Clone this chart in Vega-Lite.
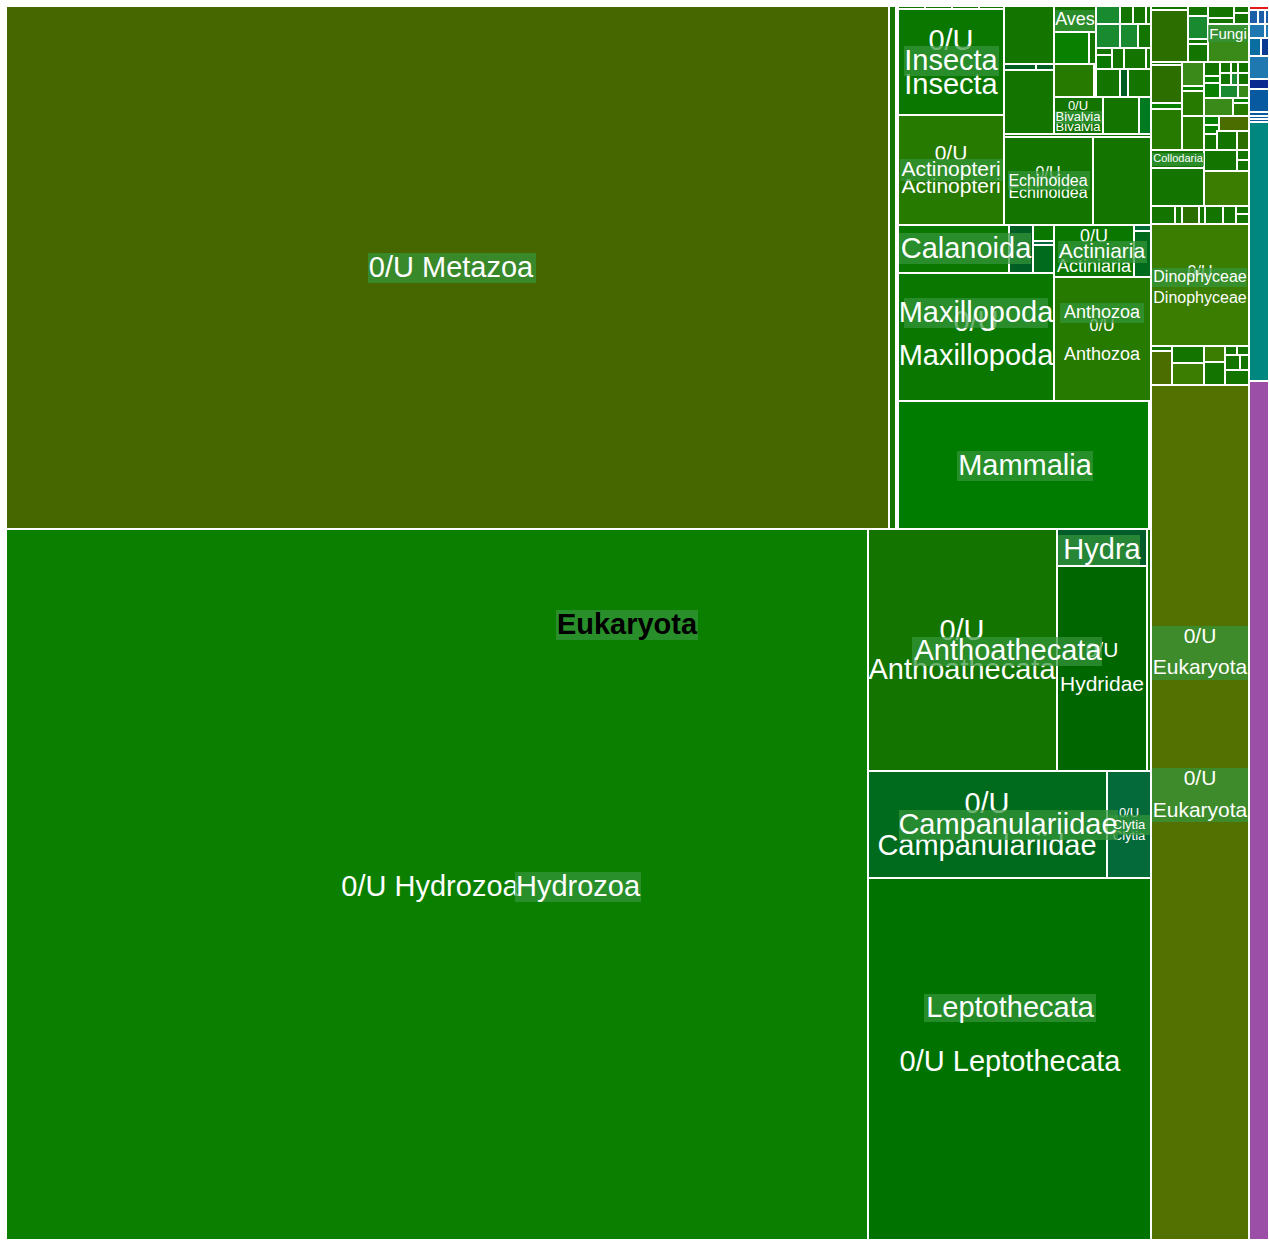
{
  "$schema": "https://vega.github.io/schema/vega-lite/v6.json",
  "width": 1263,
  "height": 1234,
  "autosize": "none",
  "padding": {"left": 6, "top": 6, "right": 0, "bottom": 0},
  "background": "white",
  "config": {"view": {"stroke": null}, "axis": {"disable": true}},
  "datasets": {
    "cells": [
      {"x0":6,"x1":889,"y0":6,"y1":529,"c":"metazoa"},
      {"x0":889,"x1":896,"y0":6,"y1":529,"c":"g"},
      {"x0":6,"x1":868,"y0":529,"y1":1240,"c":"hydrozoa"},
      {"x0":898,"x1":925,"y0":6,"y1":9,"c":"g"},
      {"x0":925,"x1":952,"y0":6,"y1":9,"c":"g"},
      {"x0":952,"x1":979,"y0":6,"y1":9,"c":"g"},
      {"x0":979,"x1":1004,"y0":6,"y1":9,"c":"g"},
      {"x0":898,"x1":1004,"y0":9,"y1":115,"c":"g2"},
      {"x0":1004,"x1":1054,"y0":6,"y1":64,"c":"g"},
      {"x0":1004,"x1":1036,"y0":64,"y1":70,"c":"dt"},
      {"x0":1036,"x1":1054,"y0":64,"y1":70,"c":"dt"},
      {"x0":1004,"x1":1054,"y0":70,"y1":134,"c":"g"},
      {"x0":1054,"x1":1096,"y0":6,"y1":32,"c":"g"},
      {"x0":1054,"x1":1089,"y0":32,"y1":64,"c":"g3"},
      {"x0":1089,"x1":1096,"y0":32,"y1":64,"c":"g"},
      {"x0":1054,"x1":1094,"y0":64,"y1":97,"c":"yg"},
      {"x0":1094,"x1":1096,"y0":64,"y1":97,"c":"g"},
      {"x0":1054,"x1":1103,"y0":97,"y1":134,"c":"g"},
      {"x0":1103,"x1":1139,"y0":97,"y1":134,"c":"g"},
      {"x0":1139,"x1":1151,"y0":97,"y1":134,"c":"g4"},
      {"x0":1096,"x1":1120,"y0":6,"y1":24,"c":"lt"},
      {"x0":1120,"x1":1133,"y0":6,"y1":24,"c":"g"},
      {"x0":1133,"x1":1146,"y0":6,"y1":24,"c":"g"},
      {"x0":1146,"x1":1151,"y0":6,"y1":24,"c":"g"},
      {"x0":1096,"x1":1120,"y0":24,"y1":48,"c":"lt"},
      {"x0":1120,"x1":1138,"y0":24,"y1":48,"c":"lt"},
      {"x0":1138,"x1":1151,"y0":24,"y1":48,"c":"g"},
      {"x0":1096,"x1":1112,"y0":48,"y1":55,"c":"g"},
      {"x0":1096,"x1":1112,"y0":55,"y1":69,"c":"g2"},
      {"x0":1112,"x1":1124,"y0":48,"y1":69,"c":"g"},
      {"x0":1124,"x1":1146,"y0":48,"y1":69,"c":"g"},
      {"x0":1146,"x1":1151,"y0":48,"y1":69,"c":"g"},
      {"x0":1096,"x1":1120,"y0":69,"y1":97,"c":"g"},
      {"x0":1120,"x1":1128,"y0":69,"y1":97,"c":"dt"},
      {"x0":1128,"x1":1151,"y0":69,"y1":97,"c":"g"},
      {"x0":1004,"x1":1151,"y0":134,"y1":137,"c":"g"},
      {"x0":898,"x1":1004,"y0":115,"y1":225,"c":"yg"},
      {"x0":1004,"x1":1093,"y0":137,"y1":225,"c":"g"},
      {"x0":1093,"x1":1151,"y0":137,"y1":225,"c":"g"},
      {"x0":898,"x1":1009,"y0":225,"y1":273,"c":"g2"},
      {"x0":1009,"x1":1033,"y0":225,"y1":273,"c":"dt"},
      {"x0":1033,"x1":1054,"y0":225,"y1":241,"c":"g2"},
      {"x0":1033,"x1":1054,"y0":241,"y1":245,"c":"cly"},
      {"x0":1033,"x1":1054,"y0":245,"y1":273,"c":"camp"},
      {"x0":1054,"x1":1134,"y0":225,"y1":277,"c":"g2"},
      {"x0":1134,"x1":1151,"y0":225,"y1":231,"c":"cly"},
      {"x0":1134,"x1":1151,"y0":231,"y1":277,"c":"camp"},
      {"x0":898,"x1":1054,"y0":273,"y1":401,"c":"g2"},
      {"x0":1054,"x1":1151,"y0":277,"y1":401,"c":"yg"},
      {"x0":898,"x1":1149,"y0":401,"y1":529,"c":"br"},
      {"x0":1149,"x1":1151,"y0":401,"y1":529,"c":"g"},
      {"x0":868,"x1":1057,"y0":529,"y1":771,"c":"g"},
      {"x0":1057,"x1":1147,"y0":529,"y1":566,"c":"hyd"},
      {"x0":1057,"x1":1147,"y0":566,"y1":771,"c":"dg"},
      {"x0":1147,"x1":1151,"y0":529,"y1":771,"c":"g"},
      {"x0":868,"x1":1107,"y0":771,"y1":878,"c":"camp"},
      {"x0":1107,"x1":1151,"y0":771,"y1":878,"c":"cly"},
      {"x0":868,"x1":1151,"y0":878,"y1":1240,"c":"lep"},
      {"x0":1151,"x1":1188,"y0":6,"y1":10,"c":"g"},
      {"x0":1151,"x1":1188,"y0":10,"y1":62,"c":"dol"},
      {"x0":1188,"x1":1208,"y0":6,"y1":16,"c":"g"},
      {"x0":1188,"x1":1208,"y0":16,"y1":39,"c":"lt"},
      {"x0":1188,"x1":1208,"y0":39,"y1":44,"c":"g"},
      {"x0":1188,"x1":1208,"y0":44,"y1":62,"c":"g"},
      {"x0":1208,"x1":1234,"y0":6,"y1":18,"c":"g"},
      {"x0":1208,"x1":1234,"y0":18,"y1":24,"c":"g"},
      {"x0":1234,"x1":1249,"y0":6,"y1":13,"c":"g"},
      {"x0":1234,"x1":1249,"y0":13,"y1":24,"c":"g"},
      {"x0":1208,"x1":1249,"y0":24,"y1":62,"c":"ly"},
      {"x0":1151,"x1":1182,"y0":62,"y1":65,"c":"g"},
      {"x0":1151,"x1":1182,"y0":65,"y1":103,"c":"dol"},
      {"x0":1151,"x1":1182,"y0":103,"y1":109,"c":"g3"},
      {"x0":1151,"x1":1182,"y0":109,"y1":150,"c":"yg"},
      {"x0":1182,"x1":1204,"y0":62,"y1":86,"c":"ly"},
      {"x0":1182,"x1":1204,"y0":86,"y1":91,"c":"g3"},
      {"x0":1182,"x1":1204,"y0":91,"y1":116,"c":"yg"},
      {"x0":1182,"x1":1204,"y0":116,"y1":150,"c":"yg"},
      {"x0":1204,"x1":1220,"y0":62,"y1":76,"c":"g"},
      {"x0":1204,"x1":1220,"y0":76,"y1":83,"c":"g3"},
      {"x0":1204,"x1":1220,"y0":83,"y1":98,"c":"g3"},
      {"x0":1220,"x1":1231,"y0":62,"y1":73,"c":"g"},
      {"x0":1231,"x1":1238,"y0":62,"y1":73,"c":"g"},
      {"x0":1238,"x1":1249,"y0":62,"y1":73,"c":"g"},
      {"x0":1220,"x1":1231,"y0":73,"y1":85,"c":"g"},
      {"x0":1231,"x1":1238,"y0":73,"y1":85,"c":"lt"},
      {"x0":1238,"x1":1249,"y0":73,"y1":85,"c":"g"},
      {"x0":1220,"x1":1238,"y0":85,"y1":98,"c":"lt"},
      {"x0":1238,"x1":1249,"y0":85,"y1":98,"c":"ly"},
      {"x0":1204,"x1":1233,"y0":98,"y1":116,"c":"ly"},
      {"x0":1233,"x1":1249,"y0":98,"y1":103,"c":"g3"},
      {"x0":1233,"x1":1249,"y0":103,"y1":116,"c":"yg"},
      {"x0":1204,"x1":1219,"y0":116,"y1":125,"c":"g3"},
      {"x0":1204,"x1":1219,"y0":125,"y1":134,"c":"g3"},
      {"x0":1219,"x1":1249,"y0":116,"y1":131,"c":"ol"},
      {"x0":1204,"x1":1217,"y0":134,"y1":150,"c":"g"},
      {"x0":1217,"x1":1237,"y0":131,"y1":150,"c":"g"},
      {"x0":1237,"x1":1249,"y0":131,"y1":150,"c":"dol"},
      {"x0":1151,"x1":1204,"y0":150,"y1":168,"c":"g"},
      {"x0":1151,"x1":1204,"y0":168,"y1":206,"c":"g"},
      {"x0":1204,"x1":1237,"y0":150,"y1":171,"c":"g"},
      {"x0":1237,"x1":1249,"y0":150,"y1":160,"c":"g"},
      {"x0":1237,"x1":1249,"y0":160,"y1":171,"c":"g"},
      {"x0":1204,"x1":1249,"y0":171,"y1":206,"c":"dino"},
      {"x0":1151,"x1":1175,"y0":206,"y1":224,"c":"g"},
      {"x0":1175,"x1":1182,"y0":206,"y1":224,"c":"g"},
      {"x0":1182,"x1":1199,"y0":206,"y1":224,"c":"dol"},
      {"x0":1199,"x1":1205,"y0":206,"y1":224,"c":"g"},
      {"x0":1205,"x1":1223,"y0":206,"y1":224,"c":"g"},
      {"x0":1223,"x1":1236,"y0":206,"y1":224,"c":"g"},
      {"x0":1236,"x1":1249,"y0":206,"y1":214,"c":"g"},
      {"x0":1236,"x1":1249,"y0":214,"y1":224,"c":"g"},
      {"x0":1151,"x1":1249,"y0":224,"y1":346,"c":"dino"},
      {"x0":1151,"x1":1172,"y0":346,"y1":351,"c":"g"},
      {"x0":1151,"x1":1172,"y0":351,"y1":385,"c":"ol"},
      {"x0":1172,"x1":1204,"y0":346,"y1":363,"c":"g"},
      {"x0":1172,"x1":1204,"y0":363,"y1":385,"c":"dino"},
      {"x0":1204,"x1":1225,"y0":346,"y1":362,"c":"dino"},
      {"x0":1204,"x1":1225,"y0":362,"y1":385,"c":"g"},
      {"x0":1225,"x1":1237,"y0":346,"y1":355,"c":"g"},
      {"x0":1237,"x1":1249,"y0":346,"y1":355,"c":"g"},
      {"x0":1225,"x1":1240,"y0":355,"y1":370,"c":"g"},
      {"x0":1240,"x1":1249,"y0":355,"y1":370,"c":"g"},
      {"x0":1225,"x1":1249,"y0":370,"y1":385,"c":"g"},
      {"x0":1151,"x1":1249,"y0":385,"y1":1240,"c":"euk"},
      {"x0":1249,"x1":1269,"y0":6,"y1":10,"c":"red"},
      {"x0":1249,"x1":1258,"y0":10,"y1":24,"c":"bl1"},
      {"x0":1258,"x1":1265,"y0":10,"y1":24,"c":"bl1"},
      {"x0":1265,"x1":1269,"y0":10,"y1":24,"c":"bl1"},
      {"x0":1249,"x1":1265,"y0":24,"y1":38,"c":"bl2"},
      {"x0":1265,"x1":1269,"y0":24,"y1":38,"c":"bl2"},
      {"x0":1249,"x1":1261,"y0":38,"y1":56,"c":"bl3"},
      {"x0":1261,"x1":1269,"y0":38,"y1":56,"c":"nv"},
      {"x0":1249,"x1":1269,"y0":56,"y1":79,"c":"bl2"},
      {"x0":1249,"x1":1269,"y0":79,"y1":89,"c":"nv2"},
      {"x0":1249,"x1":1269,"y0":89,"y1":112,"c":"bl4"},
      {"x0":1249,"x1":1269,"y0":112,"y1":116,"c":"bl4"},
      {"x0":1249,"x1":1269,"y0":116,"y1":119,"c":"bl4"},
      {"x0":1249,"x1":1269,"y0":119,"y1":122,"c":"bl4"},
      {"x0":1249,"x1":1269,"y0":122,"y1":381,"c":"teal"},
      {"x0":1249,"x1":1269,"y0":381,"y1":1240,"c":"pur"}
    ],
    "boxes": [
      {"x0":368,"x1":536,"y0":253,"y1":283},
      {"x0":556,"x1":698,"y0":610,"y1":640},
      {"x0":515,"x1":641,"y0":872,"y1":902},
      {"x0":904,"x1":999,"y0":46,"y1":76},
      {"x0":900,"x1":1003,"y0":159,"y1":181},
      {"x0":1008,"x1":1090,"y0":171,"y1":190},
      {"x0":899,"x1":1031,"y0":233,"y1":264},
      {"x0":1058,"x1":1147,"y0":241,"y1":263},
      {"x0":904,"x1":1048,"y0":298,"y1":328},
      {"x0":1060,"x1":1144,"y0":303,"y1":323},
      {"x0":957,"x1":1093,"y0":451,"y1":481},
      {"x0":1055,"x1":1095,"y0":10,"y1":31},
      {"x0":1055,"x1":1102,"y0":111,"y1":124},
      {"x0":1208,"x1":1248,"y0":25,"y1":42},
      {"x0":1152,"x1":1204,"y0":153,"y1":166},
      {"x0":1152,"x1":1247,"y0":268,"y1":287},
      {"x0":912,"x1":1102,"y0":637,"y1":666},
      {"x0":1058,"x1":1140,"y0":535,"y1":565},
      {"x0":899,"x1":1118,"y0":810,"y1":840},
      {"x0":1108,"x1":1150,"y0":815,"y1":835},
      {"x0":924,"x1":1096,"y0":994,"y1":1022},
      {"x0":1152,"x1":1248,"y0":626,"y1":680},
      {"x0":1152,"x1":1248,"y0":768,"y1":822}
    ],
    "labels": [
      {"text":"0/U Metazoa","x":451,"y":268,"t":"xl","hl":true,"bold":false},
      {"text":"Eukaryota","x":627,"y":625,"t":"xl","hl":true,"bold":true},
      {"text":"0/U Hydrozoa","x":430,"y":887,"t":"xl","hl":false,"bold":false},
      {"text":"Hydrozoa","x":578,"y":887,"t":"xl","hl":true,"bold":false},
      {"text":"0/U","x":951,"y":41,"t":"xl","hl":false,"bold":false},
      {"text":"Insecta","x":951,"y":61,"t":"xl","hl":true,"bold":false},
      {"text":"Insecta","x":951,"y":85,"t":"xl","hl":false,"bold":false},
      {"text":"0/U","x":951,"y":154,"t":"m","hl":false,"bold":false},
      {"text":"Actinopteri","x":951,"y":170,"t":"m","hl":true,"bold":false},
      {"text":"Actinopteri","x":951,"y":187,"t":"m","hl":false,"bold":false},
      {"text":"0/U","x":1048,"y":173,"t":"s","hl":false,"bold":false},
      {"text":"Echinoidea","x":1048,"y":181,"t":"s","hl":true,"bold":false},
      {"text":"Echinoidea","x":1048,"y":193,"t":"s","hl":false,"bold":false},
      {"text":"Calanoida","x":966,"y":249,"t":"xl","hl":true,"bold":false},
      {"text":"0/U","x":1094,"y":237,"t":"ms","hl":false,"bold":false},
      {"text":"Actiniaria","x":1102,"y":252,"t":"m","hl":true,"bold":false},
      {"text":"Actiniaria","x":1094,"y":267,"t":"ms","hl":false,"bold":false},
      {"text":"0/U","x":976,"y":322,"t":"xl","hl":false,"bold":false},
      {"text":"Maxillopoda","x":976,"y":313,"t":"xl","hl":true,"bold":false},
      {"text":"Maxillopoda","x":976,"y":356,"t":"xl","hl":false,"bold":false},
      {"text":"Anthozoa","x":1102,"y":313,"t":"ms","hl":true,"bold":false},
      {"text":"0/U","x":1102,"y":326,"t":"s","hl":false,"bold":false},
      {"text":"Anthozoa","x":1102,"y":355,"t":"ms","hl":false,"bold":false},
      {"text":"Mammalia","x":1025,"y":466,"t":"xl","hl":true,"bold":false},
      {"text":"Aves","x":1075,"y":20,"t":"ms","hl":true,"bold":false},
      {"text":"0/U","x":1078,"y":106,"t":"xs","hl":false,"bold":false},
      {"text":"Bivalvia","x":1078,"y":117,"t":"xs","hl":true,"bold":false},
      {"text":"Bivalvia","x":1078,"y":127,"t":"xs","hl":false,"bold":false},
      {"text":"Fungi","x":1228,"y":34,"t":"sf","hl":true,"bold":false},
      {"text":"Collodaria","x":1178,"y":159,"t":"xxs","hl":true,"bold":false},
      {"text":"0/U","x":1200,"y":272,"t":"s","hl":false,"bold":false},
      {"text":"Dinophyceae","x":1200,"y":277,"t":"s","hl":true,"bold":false},
      {"text":"Dinophyceae","x":1200,"y":298,"t":"s","hl":false,"bold":false},
      {"text":"0/U","x":962,"y":631,"t":"xl","hl":false,"bold":false},
      {"text":"Anthoathecata","x":1008,"y":651,"t":"xl","hl":true,"bold":false},
      {"text":"Anthoathecata","x":962,"y":670,"t":"xl","hl":false,"bold":false},
      {"text":"0/U","x":1102,"y":651,"t":"m","hl":false,"bold":false},
      {"text":"Hydridae","x":1102,"y":685,"t":"m","hl":false,"bold":false},
      {"text":"Hydra","x":1102,"y":550,"t":"xl","hl":true,"bold":false},
      {"text":"0/U","x":987,"y":804,"t":"xl","hl":false,"bold":false},
      {"text":"Campanulariidae","x":1008,"y":825,"t":"xl","hl":true,"bold":false},
      {"text":"Campanulariidae","x":987,"y":846,"t":"xl","hl":false,"bold":false},
      {"text":"0/U","x":1129,"y":813,"t":"xs","hl":false,"bold":false},
      {"text":"Clytia","x":1129,"y":825,"t":"xs","hl":true,"bold":false},
      {"text":"Clytia","x":1129,"y":836,"t":"xs","hl":false,"bold":false},
      {"text":"Leptothecata","x":1010,"y":1008,"t":"xl","hl":true,"bold":false},
      {"text":"0/U Leptothecata","x":1010,"y":1062,"t":"xl","hl":false,"bold":false},
      {"text":"0/U","x":1200,"y":637,"t":"m","hl":true,"bold":false},
      {"text":"Eukaryota","x":1200,"y":668,"t":"m","hl":true,"bold":false},
      {"text":"0/U","x":1200,"y":779,"t":"m","hl":true,"bold":false},
      {"text":"Eukaryota","x":1200,"y":811,"t":"m","hl":true,"bold":false}
    ]
  },
  "layer": [
    {
      "data": {"name": "cells"},
      "mark": {"type": "rect", "stroke": "white", "strokeWidth": 2},
      "encoding": {
        "x": {"field": "x0", "type": "quantitative", "scale": {"domain": [6, 1269], "nice": false, "zero": false}, "axis": null},
        "x2": {"field": "x1"},
        "y": {"field": "y0", "type": "quantitative", "scale": {"domain": [6, 1240], "nice": false, "zero": false, "reverse": true}, "axis": null},
        "y2": {"field": "y1"},
        "color": {
          "field": "c", "type": "nominal", "legend": null,
          "scale": {
            "domain": ["metazoa","hydrozoa","euk","g","dg","camp","cly","lep","br","yg","lt","ly","dol","dino","ol","dt","g2","g3","g4","hyd","bl1","bl2","bl3","nv","nv2","bl4","teal","pur","red"],
            "range": ["#466600","#0b7f00","#527100","#137500","#006600","#006b1c","#046a3a","#007200","#007d00","#277a00","#1a8a30","#3a8a1a","#2d6e00","#3a7d00","#4b6d00","#005d24","#0a7800","#0a8000","#007a20","#005d2a","#1c5fa8","#1f78b0","#0a6ea0","#0b3a91","#0a2a90","#085aa0","#00877f","#9c4fa6","#e41a1c"]
          }
        }
      }
    },
    {
      "data": {"name": "labels"},
      "transform": [{"filter": "!datum.hl"}],
      "mark": {"type": "text", "font": "Liberation Sans", "align": "center", "baseline": "middle", "fill": "white"},
      "encoding": {
        "x": {"field": "x", "type": "quantitative"},
        "y": {"field": "y", "type": "quantitative"},
        "text": {"field": "text"},
        "size": {"field": "t", "type": "nominal", "legend": null, "scale": {"type": "ordinal", "domain": ["xl","m","ms","s","sf","xs","xxs"], "range": [29,21,18,16,15,13,11]}}
      }
    },
    {
      "data": {"name": "boxes"},
      "mark": {"type": "rect", "fill": "#34963a", "opacity": 0.72},
      "encoding": {
        "x": {"field": "x0", "type": "quantitative"},
        "x2": {"field": "x1"},
        "y": {"field": "y0", "type": "quantitative"},
        "y2": {"field": "y1"}
      }
    },
    {
      "data": {"name": "labels"},
      "transform": [{"filter": "datum.hl && !datum.bold"}],
      "mark": {"type": "text", "font": "Liberation Sans", "align": "center", "baseline": "middle", "fill": "white"},
      "encoding": {
        "x": {"field": "x", "type": "quantitative"},
        "y": {"field": "y", "type": "quantitative"},
        "text": {"field": "text"},
        "size": {"field": "t", "type": "nominal", "legend": null, "scale": {"type": "ordinal", "domain": ["xl","m","ms","s","sf","xs","xxs"], "range": [29,21,18,16,15,13,11]}}
      }
    },
    {
      "data": {"name": "labels"},
      "transform": [{"filter": "datum.bold"}],
      "mark": {"type": "text", "font": "Liberation Sans", "fontWeight": "bold", "align": "center", "baseline": "middle", "fill": "black"},
      "encoding": {
        "x": {"field": "x", "type": "quantitative"},
        "y": {"field": "y", "type": "quantitative"},
        "text": {"field": "text"},
        "size": {"field": "t", "type": "nominal", "legend": null, "scale": {"type": "ordinal", "domain": ["xl","m","ms","s","sf","xs","xxs"], "range": [29,21,18,16,15,13,11]}}
      }
    }
  ]
}
